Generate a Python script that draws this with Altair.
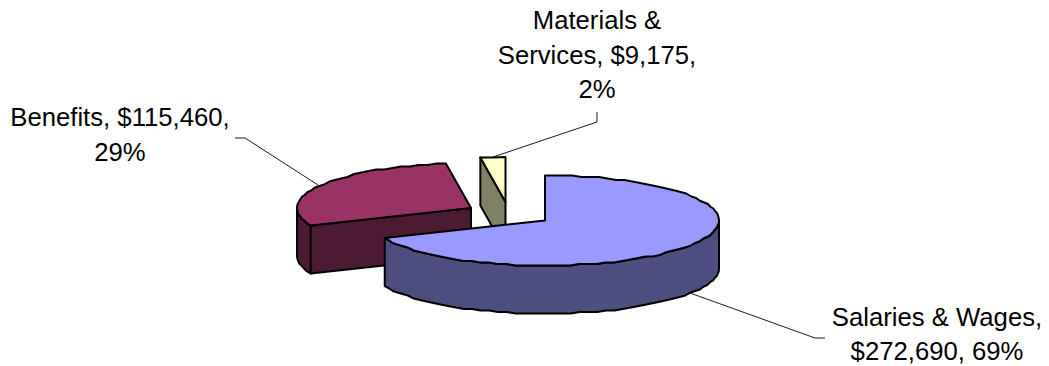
import math
import altair as alt

# Budget figures
categories = ["Salaries & Wages", "Benefits", "Materials & Services"]
amounts = [272690, 115460, 9175]

# Label wrapping per slice, using the formatted amount and share
label_breaks = [
    ["{n},", "{a}, {p}"],
    ["{n}, {a},", "{p}"],
    ["Materials &", "Services, {a},", "{p}"],
]

# Pie geometry (pixels)
CX, CY, RX, RY, DEPTH = 545, 220.5, 174, 45, 48
OFFSETS = [(0, 0), (-74, -12.5), (-39.5, -18.5)]
FACE_DOMAIN = ["s_top", "s_side", "b_top", "b_side", "m_top", "m_side"]
FACE_RANGE = ["#9999FF", "#4D4D80", "#993366", "#4D1A33", "#FFFFCC", "#808066"]
# The rim is drawn as a coarse polyline snapped to a pixel grid
RIM_STEP_DEG = 3.0
RIM_GRID = 1.5

total = sum(amounts)
angles = [0.0]
for v in amounts:
    angles.append(angles[-1] + 360.0 * v / total)


def rim(i, deg, drop=0.0):
    dx, dy = OFFSETS[i]
    t = math.radians(deg)
    return [CX + dx + RX * math.sin(t), CY + dy - RY * math.cos(t) + drop]


def apex(i, drop=0.0):
    return [CX + OFFSETS[i][0], CY + OFFSETS[i][1] + drop]


def arc(i, a, b, drop=0.0):
    n = max(1, int(abs(b - a) / RIM_STEP_DEG))
    pts = []
    for k in range(n + 1):
        x, y = rim(i, a + (b - a) * k / n, drop)
        if 0 < k < n:
            y = round(y / RIM_GRID) * RIM_GRID
        pts.append([x, y])
    return pts


def feature(face, ring):
    ring = ring + [ring[0]]
    return {
        "type": "Feature",
        "properties": {"face": face},
        "geometry": {"type": "Polygon", "coordinates": [ring]},
    }


features = []

# Materials & Services: radial wall then top
a, b = angles[2], angles[3]
features.append(feature("m_side", [rim(2, a), apex(2), apex(2, DEPTH), rim(2, a, DEPTH)]))
features.append(feature("m_top", [apex(2)] + arc(2, a, b)))

# Benefits: outer wall, radial wall, top
a, b = angles[1], angles[2]
features.append(feature("b_side", arc(1, a, 270) + arc(1, 270, a, DEPTH)))
features.append(feature("b_side", [apex(1), rim(1, a), rim(1, a, DEPTH), apex(1, DEPTH)]))
features.append(feature("b_top", [apex(1)] + arc(1, a, b)))

# Salaries & Wages: outer wall then top
a, b = angles[0], angles[1]
features.append(feature("s_side", arc(0, 90, b) + arc(0, b, 90, DEPTH)))
features.append(feature("s_top", [apex(0)] + arc(0, a, b)))

faces = (
    alt.Chart(alt.Data(values=features))
    .mark_geoshape(stroke="black", strokeWidth=2, strokeJoin="round")
    .encode(
        fill=alt.Color(
            "properties.face:N",
            scale=alt.Scale(domain=FACE_DOMAIN, range=FACE_RANGE),
            legend=None,
        )
    )
    .project(type="identity", scale=1, translate=[0, 0])
)

x_scale = alt.Scale(domain=[0, 1049], range=[0, 1049])
y_scale = alt.Scale(domain=[0, 366], range=[0, 366])

# Leader lines from each label to its slice
leaders = [
    [(825, 338), (815, 338), (690, 293)],
    [(235, 138), (245, 138), (318, 185)],
    [(597, 112), (597, 122), (493, 157)],
]
leader_rows = [
    {"slice": categories[i], "order": k, "x": p[0], "y": p[1]}
    for i, pts in enumerate(leaders)
    for k, p in enumerate(pts)
]
leader_lines = (
    alt.Chart(alt.Data(values=leader_rows))
    .mark_line(color="black", strokeWidth=0.9)
    .encode(
        x=alt.X("x:Q", scale=x_scale, axis=None),
        y=alt.Y("y:Q", scale=y_scale, axis=None),
        detail="slice:N",
        order="order:Q",
    )
)

# Category labels, one row per wrapped line
label_anchor = [(937, [318, 352]), (120, [118, 153]), (597, [21, 56, 90])]
label_rows = []
for i, name in enumerate(categories):
    amount = f"${amounts[i]:,}"
    share = f"{round(100 * amounts[i] / total)}%"
    x0, ys = label_anchor[i]
    for line, y0 in zip(label_breaks[i], ys):
        label_rows.append({"text": line.format(n=name, a=amount, p=share), "x": x0, "y": y0})

labels = (
    alt.Chart(alt.Data(values=label_rows))
    .mark_text(font="Liberation Sans", fontSize=25.7, color="black", align="center", baseline="middle")
    .encode(
        x=alt.X("x:Q", scale=x_scale, axis=None),
        y=alt.Y("y:Q", scale=y_scale, axis=None),
        text="text:N",
    )
)

chart = (
    alt.layer(leader_lines, faces, labels)
    .properties(width=1049, height=366, padding=0, autosize=alt.AutoSizeParams(type="none"), background="white")
    .configure_view(stroke=None)
)

chart.save("out.html", embed_options={"renderer": "svg", "actions": False})
